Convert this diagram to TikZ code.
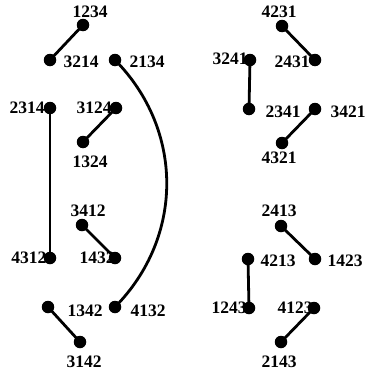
\documentclass[tikz,border=0pt]{standalone}
\usepackage{fontspec}
\setmainfont{Liberation Serif}
\begin{document}
\begin{tikzpicture}[x=1pt,y=-1pt,
  dot/.style={circle,fill=black,inner sep=0pt,minimum size=12.5pt},
  lab/.style={inner sep=0pt,font=\fontsize{17.5}{17.5}\selectfont\bfseries},
  edge/.style={line width=2.8pt}]
\useasboundingbox (0,0) rectangle (364,372);
% labels
\node[lab] (l1234) at (90,12) {1234};
\node[lab] (l3214) at (81,62) {3214};
\node[lab] (l2134) at (147,62) {2134};
\node[lab] (l2314) at (27,108) {2314};
\node[lab] (l3124) at (94,108) {3124};
\node[lab] (l1324) at (90,162) {1324};
\node[lab] (l3412) at (88,211) {3412};
\node[lab] (l4312) at (29,258) {4312};
\node[lab] (l1432) at (97,258) {1432};
\node[lab] (l1342) at (85,311) {1342};
\node[lab] (l4132) at (148,311) {4132};
\node[lab] (l3142) at (84,362) {3142};
\node[lab] (l4231) at (279,12) {4231};
\node[lab] (l2431) at (292,62) {2431};
\node[lab] (l3241) at (230,59) {3241};
\node[lab] (l2341) at (283,112) {2341};
\node[lab] (l3421) at (348,112) {3421};
\node[lab] (l4321) at (279,158) {4321};
\node[lab] (l2413) at (279,211) {2413};
\node[lab] (l4213) at (278,261) {4213};
\node[lab] (l1423) at (345,261) {1423};
\node[lab] (l1243) at (229,308) {1243};
\node[lab] (l4123) at (295,308) {4123};
\node[lab] (l2143) at (279,362) {2143};
% dots
\node[dot] (d1234) at (83,25) {};
\node[dot] (d3214) at (50,60) {};
\node[dot] (d2134) at (115,60) {};
\node[dot] (d2314) at (50,108) {};
\node[dot] (d3124) at (116,108) {};
\node[dot] (d1324) at (83,142) {};
\node[dot] (d3412) at (82,225) {};
\node[dot] (d4312) at (50,258) {};
\node[dot] (d1432) at (115,258) {};
\node[dot] (d1342) at (48,307) {};
\node[dot] (d4132) at (115,307) {};
\node[dot] (d3142) at (80,342) {};
\node[dot] (d4231) at (282,26) {};
\node[dot] (d2431) at (315,60) {};
\node[dot] (d3241) at (250,60) {};
\node[dot] (d2341) at (249,109) {};
\node[dot] (d3421) at (315,109) {};
\node[dot] (d4321) at (282,143) {};
\node[dot] (d2413) at (281,226) {};
\node[dot] (d1423) at (315,259) {};
\node[dot] (d4213) at (248,259) {};
\node[dot] (d1243) at (249,308) {};
\node[dot] (d4123) at (314,308) {};
\node[dot] (d2143) at (281,342) {};
% edges
\draw[edge] (d1234.center) -- (d3214.center);
\draw[edge] (d2134.center) .. controls (184,130) and (184,237) .. (d4132.center);
\draw[edge] (d2314.center) -- (d4312.center);
\draw[edge] (d3124.center) -- (d1324.center);
\draw[edge] (d3412.center) -- (d1432.center);
\draw[edge] (d1342.center) -- (d3142.center);
\draw[edge] (d4231.center) -- (d2431.center);
\draw[edge] (d3241.center) -- (d2341.center);
\draw[edge] (d3421.center) -- (d4321.center);
\draw[edge] (d2413.center) -- (d1423.center);
\draw[edge] (d4213.center) -- (d1243.center);
\draw[edge] (d4123.center) -- (d2143.center);
\end{tikzpicture}
\end{document}
